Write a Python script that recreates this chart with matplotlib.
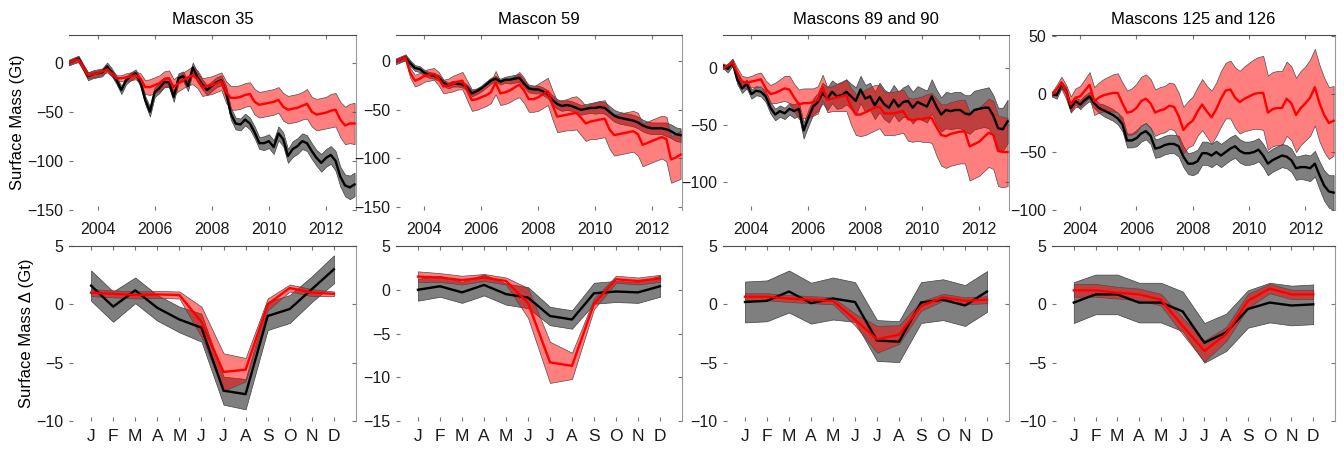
import numpy as np
import matplotlib
matplotlib.use("Agg")
import matplotlib.pyplot as plt

plt.rcParams['font.family'] = ['Liberation Sans', 'DejaVu Sans']

# time axis of the top row: one value every two months, 2003 to 2013
t = 2003 + np.arange(61) / 6.0
months = np.arange(1, 13)
month_labels = ['J', 'F', 'M', 'A', 'M', 'J', 'J', 'A', 'S', 'O', 'N', 'D']

titles = ['Mascon 35', 'Mascon 59', 'Mascons 89 and 90', 'Mascons 125 and 126']

# ---- time series (Gt): black = observed, red = model ----
m35_black = [0, 2, 4, -5, -14, -12,
             -11, -10, -4, -10, -18, -28,
             -18, -14, -11, -20, -38, -50,
             -30, -26, -20, -20, -35, -16,
             -14, -24, -5, -15, -22, -28,
             -24, -20, -18, -30, -52, -62,
             -63, -58, -62, -71, -82, -82,
             -80, -86, -72, -78, -95, -88,
             -85, -80, -82, -90, -97, -102,
             -97, -94, -100, -116, -125, -127,
             -124]
m35_black_err = [3, 3, 3, 3, 4, 4, 4, 4, 4, 4, 4, 4, 4, 4, 4, 4, 4, 5,
                 5, 5, 5, 5, 5, 5, 5, 5, 5, 5, 5, 5, 5, 5, 5, 6, 6, 6,
                 6, 6, 6, 6, 6, 7, 7, 7, 7, 7, 7, 8, 8, 8, 8, 8, 8, 9,
                 9, 9, 10, 10, 11, 12, 12]
m35_red = [0, 2, 3, -5, -13, -12,
           -11, -9, -7, -11, -16, -16,
           -15, -14, -13, -16, -25, -25,
           -23, -21, -17, -16, -25, -21,
           -18, -15, -13, -17, -25, -24,
           -23, -21, -19, -30, -36, -36,
           -35, -33, -32, -40, -43, -42,
           -41, -40, -38, -45, -48, -47,
           -46, -44, -42, -50, -53, -52,
           -51, -49, -48, -58, -64, -62,
           -62]
m35_red_err = [2, 2, 3, 3, 3, 3, 3, 3, 3, 3, 3, 3, 4, 4, 4, 5, 7, 8,
               8, 8, 8, 8, 8, 8, 8, 8, 9, 9, 9, 9, 9, 9, 9, 11, 12, 12,
               12, 12, 12, 13, 13, 13, 13, 13, 13, 14, 14, 14, 14, 14, 15, 15,
               16, 16, 16, 17, 17, 18, 19, 20, 21]

m59_black = [0, 2, 4, -2, -7, -8,
             -12, -14, -15, -17, -22, -25,
             -23, -23, -24, -27, -33, -31,
             -28, -24, -20, -18, -21, -19,
             -19, -18, -17, -23, -28, -29,
             -29, -31, -34, -40, -44, -46,
             -45, -46, -48, -50, -49, -48,
             -48, -47, -48, -52, -56, -58,
             -59, -60, -61, -63, -66, -68,
             -69, -69, -69, -70, -72, -75,
             -76]
m59_black_err = [3, 3, 3, 3, 3, 3, 3, 3, 3, 3, 3, 3, 3, 3, 3, 3, 3, 3,
                 3, 3, 3, 3, 3, 3, 4, 4, 4, 4, 4, 4, 4, 4, 4, 5, 5, 5,
                 5, 5, 5, 5, 5, 5, 6, 6, 6, 6, 6, 6, 6, 6, 6, 6, 6, 6,
                 6, 6, 6, 7, 7, 7, 7]
m59_red = [0, 2, 4, -12, -20, -18,
           -15, -14, -13, -18, -26, -25,
           -23, -21, -20, -30, -40, -39,
           -37, -35, -32, -22, -33, -32,
           -30, -27, -24, -30, -39, -39,
           -37, -34, -31, -45, -57, -56,
           -55, -54, -53, -58, -64, -62,
           -61, -60, -59, -70, -76, -75,
           -74, -73, -72, -75, -86, -84,
           -82, -80, -78, -80, -101, -99,
           -96]
m59_red_err = [1, 2, 3, 5, 6, 6, 6, 6, 6, 7, 7, 7, 8, 8, 9, 10, 11, 11,
               11, 11, 11, 12, 12, 12, 12, 12, 13, 13, 13, 13, 14, 14, 14, 15, 16, 16,
               16, 17, 17, 18, 18, 18, 19, 19, 19, 20, 21, 21, 21, 21, 21, 22, 22, 22,
               22, 22, 22, 23, 24, 24, 25]

m89_black = [2, -1, 5, -10, -18, -14,
             -23, -20, -21, -25, -35, -41,
             -38, -40, -36, -38, -36, -55,
             -44, -34, -30, -22, -27, -21,
             -25, -24, -21, -25, -29, -19,
             -27, -25, -33, -26, -32, -35,
             -28, -34, -30, -29, -35, -30,
             -32, -34, -25, -34, -41, -37,
             -38, -37, -37, -40, -41, -37,
             -36, -35, -35, -42, -53, -54,
             -47]
m89_black_err = [2, 3, 3, 4, 4, 4, 4, 4, 4, 5, 5, 5, 5, 5, 5, 6, 6, 7,
                 7, 7, 8, 9, 10, 10, 11, 11, 11, 11, 12, 12, 12, 12, 12, 13, 13, 13,
                 13, 13, 13, 14, 14, 14, 14, 14, 15, 15, 15, 16, 16, 16, 16, 16, 17, 17,
                 17, 17, 18, 18, 18, 19, 19]
m89_red = [0, 2, 5, -4, -12, -13,
           -12, -11, -10, -18, -23, -22,
           -20, -18, -19, -26, -32, -31,
           -31, -30, -28, -17, -28, -27,
           -26, -25, -24, -34, -41, -41,
           -39, -37, -35, -34, -40, -40,
           -40, -39, -38, -45, -46, -45,
           -45, -44, -44, -52, -59, -60,
           -58, -57, -56, -56, -69, -67,
           -65, -61, -57, -59, -73, -74,
           -74]
m89_red_err = [1, 2, 3, 4, 5, 5, 5, 6, 6, 7, 8, 9, 10, 11, 12, 12, 13, 13,
               13, 12, 12, 11, 11, 11, 12, 13, 14, 16, 18, 19, 20, 20, 20, 19, 19, 19,
               19, 19, 19, 19, 19, 19, 20, 21, 22, 25, 27, 28, 28, 28, 28, 28, 30, 30,
               30, 30, 30, 30, 31, 31, 30]

m125_black = [0, -1, 8, 3, -12, -6,
              -9, -5, -2, -8, -12, -14,
              -16, -18, -21, -26, -40, -40,
              -38, -34, -32, -36, -47, -46,
              -44, -43, -43, -45, -54, -60,
              -60, -58, -51, -51, -53, -50,
              -53, -50, -47, -45, -49, -51,
              -51, -50, -48, -53, -60, -57,
              -55, -53, -54, -57, -64, -63,
              -63, -64, -60, -70, -79, -84,
              -85]
m125_black_err = [2, 3, 3, 3, 3, 3, 4, 4, 4, 4, 4, 5, 5, 5, 5, 6, 6, 6,
                  7, 7, 7, 7, 8, 8, 8, 8, 8, 9, 9, 9, 10, 10, 10, 10, 10, 10,
                  10, 10, 10, 10, 10, 10, 10, 10, 10, 10, 10, 10, 10, 10, 10, 10, 10, 10,
                  11, 11, 11, 12, 13, 14, 15]
m125_red = [0, 4, 10, 2, -9, -3,
            -2, 3, 8, -6, -3, -1,
            0, 1, 1, -8, -16, -15,
            -12, -6, -4, -8, -16, -14,
            -13, -10, -11, -19, -31, -26,
            -23, -15, -9, -15, -20, -13,
            -4, 3, 4, -3, -7, -4,
            -2, 0, 1, 1, -16, -13,
            -12, -12, -4, -8, -18, -12,
            -8, -3, 6, -8, -18, -25,
            -23]
m125_red_err = [2, 4, 5, 6, 7, 8, 9, 10, 11, 12, 13, 14, 15, 16, 17, 18, 19, 20,
                21, 21, 21, 21, 20, 20, 20, 20, 20, 20, 20, 20, 21, 21, 22, 22, 23, 23,
                24, 24, 25, 26, 27, 28, 29, 30, 31, 32, 32, 32, 32, 32, 32, 32, 32, 32,
                32, 33, 33, 33, 32, 31, 30]

# ---- mean seasonal cycle (Gt) ----
c35_black = [1.6, -0.2, 1.2, -0.3, -1.3, -2.0, -7.4, -7.7, -1.0, -0.4, 1.3, 3.0]
c35_black_err = [1.3, 1.3, 1.1, 1.1, 1.1, 1.2, 1.2, 1.3, 1.2, 1.2, 1.1, 1.2]
c35_red = [1.0, 0.9, 0.8, 0.85, 0.8, -1.5, -5.8, -5.6, 0.0, 1.4, 1.0, 0.9]
c35_red_err = [0.3, 0.3, 0.3, 0.3, 0.3, 1.3, 1.6, 1.0, 0.5, 0.3, 0.3, 0.2]

c59_black = [0.0, 0.4, -0.3, 0.55, -0.5, -0.9, -3.0, -3.4, -0.4, -0.2, -0.3, 0.4]
c59_black_err = [1.25, 1.2, 1.2, 1.2, 1.2, 1.2, 1.05, 1.05, 1.2, 1.2, 1.2, 1.2]
c59_red = [1.5, 1.4, 1.1, 1.4, 1.0, -1.5, -8.3, -8.7, -1.6, 1.2, 1.0, 1.3]
c59_red_err = [0.6, 0.5, 0.5, 0.4, 0.4, 1.7, 2.35, 1.5, 0.6, 0.4, 0.4, 0.4]

c89_black = [0.2, 0.3, 1.1, 0.1, 0.5, 0.2, -3.1, -3.2, 0.15, 0.4, -0.1, 1.1]
c89_black_err = [1.75, 1.75, 1.8, 1.75, 1.8, 1.7, 1.75, 1.75, 1.75, 1.75, 1.75, 1.75]
c89_red = [0.65, 0.65, 0.5, 0.4, 0.3, -1.3, -3.0, -2.6, -0.15, 0.6, 0.3, 0.4]
c89_red_err = [0.3, 0.3, 0.3, 0.3, 0.3, 0.5, 1.15, 0.8, 0.4, 0.3, 0.3, 0.3]

c125_black = [0.15, 0.85, 0.85, 0.15, 0.15, -0.6, -3.3, -2.4, -0.4, 0.15, -0.1, 0.0]
c125_black_err = [1.75, 1.7, 1.7, 1.7, 1.7, 1.7, 1.7, 1.6, 1.6, 1.7, 1.7, 1.7]
c125_red = [1.2, 1.2, 1.0, 0.85, 0.4, -1.85, -4.0, -2.55, 0.3, 1.35, 0.85, 0.85]
c125_red_err = [0.55, 0.55, 0.5, 0.5, 0.5, 0.7, 0.9, 0.6, 0.6, 0.4, 0.4, 0.4]

series = [(m35_black, m35_black_err, m35_red, m35_red_err),
          (m59_black, m59_black_err, m59_red, m59_red_err),
          (m89_black, m89_black_err, m89_red, m89_red_err),
          (m125_black, m125_black_err, m125_red, m125_red_err)]
clims = [(c35_black, c35_black_err, c35_red, c35_red_err),
         (c59_black, c59_black_err, c59_red, c59_red_err),
         (c89_black, c89_black_err, c89_red, c89_red_err),
         (c125_black, c125_black_err, c125_red, c125_red_err)]

top_ylims = [(-150, 28), (-153, 27), (-125, 29), (-100, 51)]
top_yticks = [[-150, -100, -50, 0], [-150, -100, -50, 0], [-100, -50, 0], [-100, -50, 0, 50]]
bot_ylims = [(-10, 5), (-15, 5), (-10, 5), (-10, 5)]
bot_yticks = [[-10, -5, 0, 5], [-15, -10, -5, 0, 5], [-10, -5, 0, 5], [-10, -5, 0, 5]]

lefts = [69, 396, 723, 1052]
widths = [287, 286, 286, 283]
W, H = 1344, 449


def style(ax, xpad, xsize):
    for s in ['left', 'bottom']:
        ax.spines[s].set_visible(False)
    ax.spines['top'].set_color('0.3')
    ax.spines['right'].set_color('0.6')
    ax.tick_params(direction='in', length=3, width=0.8, color='0.45',
                   top=True, right=True, labelsize=11.5, labelcolor='0.1')
    ax.tick_params(axis='x', pad=xpad, labelsize=xsize)
    ax.tick_params(axis='y', pad=4)


def bands(ax, x, blk, blk_err, red, red_err):
    blk = np.array(blk, dtype=float)
    blk_err = np.array(blk_err, dtype=float)
    red = np.array(red, dtype=float)
    red_err = np.array(red_err, dtype=float)
    ax.fill_between(x, blk - blk_err, blk + blk_err, facecolor=(0, 0, 0, 0.5),
                    edgecolor=(0.25, 0.25, 0.25, 1), linewidth=0.5, zorder=1)
    ax.fill_between(x, red - red_err, red + red_err, facecolor=(1, 0, 0, 0.5),
                    edgecolor=(0.3, 0.3, 0.3, 1), linewidth=0.5, zorder=2)
    ax.plot(x, blk, color='k', lw=1.7, zorder=3)
    ax.plot(x, red, color='#ff0000', lw=1.7, zorder=4)


fig = plt.figure(figsize=(W / 100, H / 100), dpi=100)

for i in range(4):
    ax = fig.add_axes([lefts[i] / W, 1 - 210 / H, widths[i] / W, 175 / H])
    bands(ax, t, *series[i])
    ax.set_xlim(2003, 2013.05)
    ax.set_ylim(*top_ylims[i])
    ax.set_xticks([2004, 2006, 2008, 2010, 2012])
    ax.set_yticks(top_yticks[i])
    ax.set_title(titles[i], fontsize=12, pad=8)
    style(ax, 8.5, 11.5)
    if i == 0:
        ax.set_ylabel('Surface Mass (Gt)', fontsize=12, labelpad=2)

    ax2 = fig.add_axes([lefts[i] / W, 1 - 421 / H, widths[i] / W, 175 / H])
    bands(ax2, months, *clims[i])
    ax2.set_xlim(0, 13)
    ax2.set_ylim(*bot_ylims[i])
    ax2.set_xticks(months)
    ax2.set_xticklabels(month_labels)
    ax2.set_yticks(bot_yticks[i])
    style(ax2, 6, 12.5)
    if i == 0:
        ax2.set_ylabel('Surface Mass Δ (Gt)', fontsize=12, labelpad=2)

fig.savefig('out.png', dpi=100)
